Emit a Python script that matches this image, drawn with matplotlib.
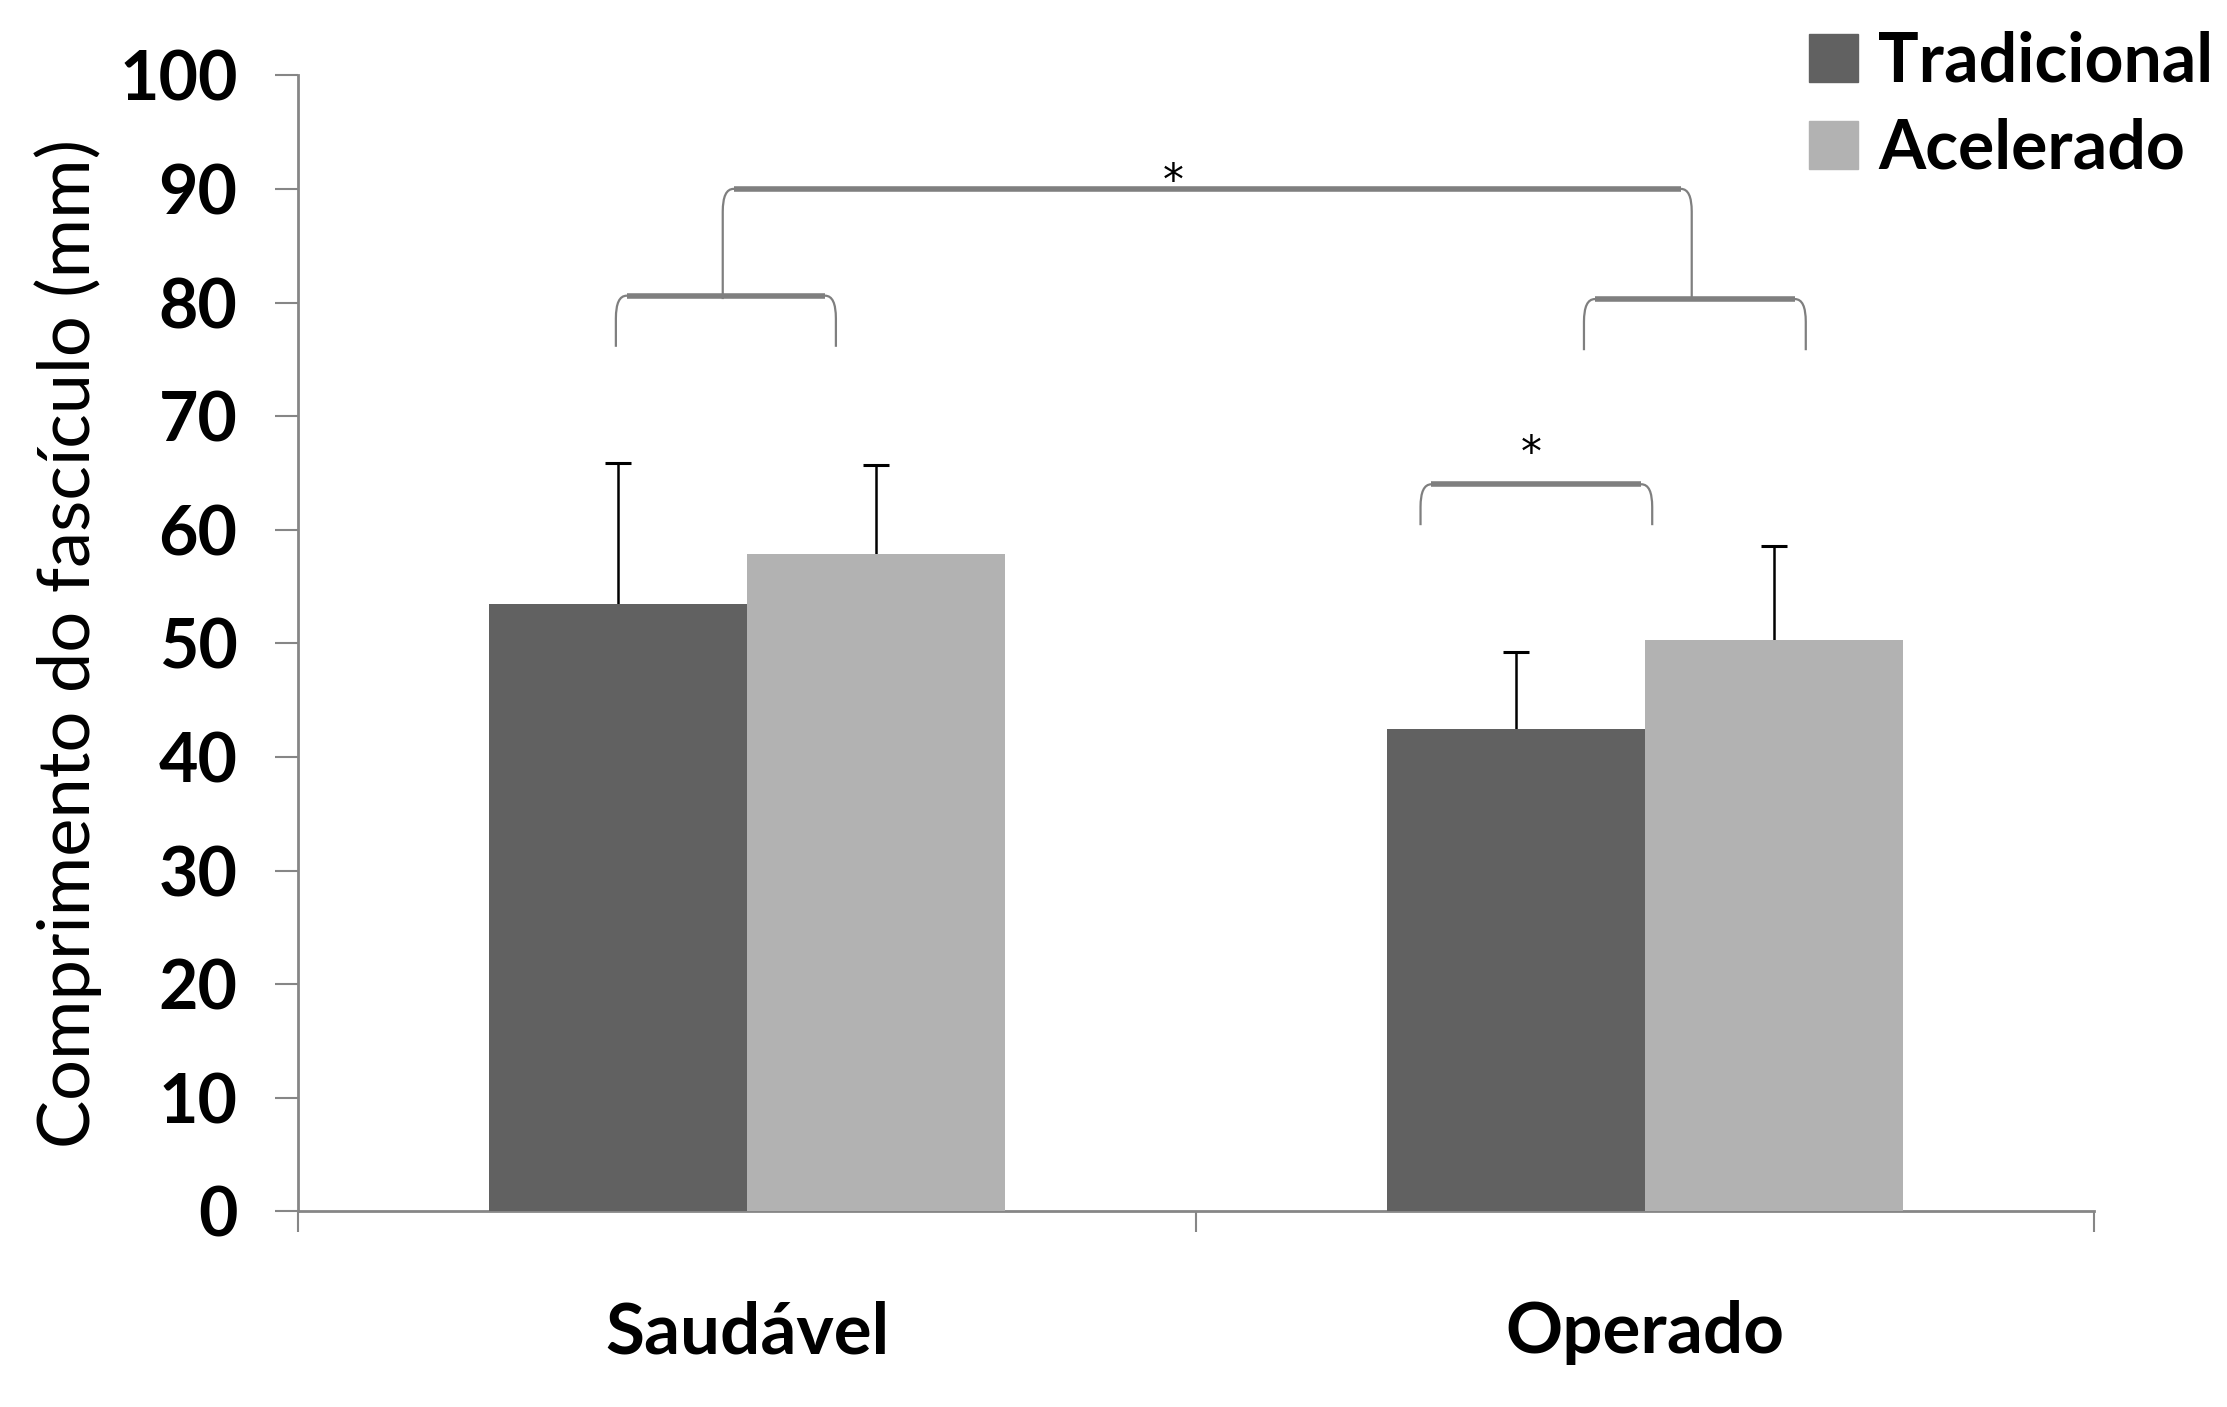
import matplotlib.pyplot as plt
from matplotlib.path import Path
from matplotlib.patches import PathPatch, Patch
import numpy as np

# Fascicle length (mm), mean and upper SD
groups = ["Saudável", "Operado"]
tradicional = [53.5, 42.5]
tradicional_sd = [12.4, 6.7]
acelerado = [57.9, 50.3]
acelerado_sd = [7.8, 8.3]

dark = "#616161"
light = "#b2b2b2"
axis_gray = "#868686"
bracket_gray = "#7f7f7f"

plt.rcParams["font.family"] = ["Lato", "DejaVu Sans"]

fig = plt.figure(figsize=(22.27, 14.07), dpi=100)
ax = fig.add_axes([0.1338, 0.139, 0.8065, 0.8075])

x = np.arange(len(groups))
w = 0.287

# bars sit above the error bars so only the upper half shows
ax.bar(x - w / 2, tradicional, w, color=dark, label="Tradicional", zorder=3)
ax.bar(x + w / 2, acelerado, w, color=light, label="Acelerado", zorder=3)
ax.errorbar(x - w / 2, tradicional, yerr=tradicional_sd, fmt="none",
            ecolor="black", elinewidth=1.8, capsize=9.5, capthick=2.2, zorder=2)
ax.errorbar(x + w / 2, acelerado, yerr=acelerado_sd, fmt="none",
            ecolor="black", elinewidth=1.8, capsize=9.5, capthick=2.2, zorder=2)


def bracket(x0, x1, y, ybot, rx=0.012, ry=2.0):
    verts = [(x0, ybot), (x0, y - ry), (x0, y), (x0 + rx, y),
             (x1 - rx, y), (x1, y), (x1, y - ry), (x1, ybot)]
    codes = [Path.MOVETO, Path.LINETO, Path.CURVE3, Path.CURVE3,
             Path.LINETO, Path.CURVE3, Path.CURVE3, Path.LINETO]
    ax.add_patch(PathPatch(Path(verts, codes), fill=False, lw=1.6,
                           edgecolor=bracket_gray, clip_on=False))
    ax.plot([x0 + rx, x1 - rx], [y, y], color=bracket_gray, lw=4,
            solid_capstyle="butt", clip_on=False)


bracket(-0.146, 0.099, 80.6, 76.1)
bracket(0.932, 1.179, 80.3, 75.8)
bracket(-0.027, 1.052, 90.0, 80.3)
bracket(0.750, 1.008, 64.0, 60.4)

ax.text(0.475, 88.8, "*", ha="center", va="bottom", fontsize=30,
        family="DejaVu Sans")
ax.text(0.873, 64.8, "*", ha="center", va="bottom", fontsize=30,
        family="DejaVu Sans")

ax.set_xlim(-0.5, 1.5)
ax.set_ylim(0, 100)
ax.set_yticks(np.arange(0, 101, 10))
ax.tick_params(axis="y", labelsize=49, length=16.5, width=1.5,
               color=axis_gray, pad=27)
for lbl in ax.get_yticklabels():
    lbl.set_fontweight("bold")

ax.set_xticks([-0.5, 0.5, 1.5])
ax.set_xticklabels([])
ax.set_xticks(x, minor=True)
ax.set_xticklabels(groups, minor=True, fontsize=51, fontweight="bold")
ax.tick_params(axis="x", which="major", length=15, width=1.5, color=axis_gray)
ax.tick_params(axis="x", which="minor", length=0, pad=64)

for side in ["top", "right"]:
    ax.spines[side].set_visible(False)
for side in ["left", "bottom"]:
    ax.spines[side].set_color(axis_gray)
    ax.spines[side].set_linewidth(2)

ax.set_ylabel("Comprimento do fascículo (mm)", fontsize=52, labelpad=12)

ax.legend(handles=[Patch(color=dark, label="Tradicional"),
                   Patch(color=light, label="Acelerado")],
          loc="upper left", bbox_to_anchor=(1809 / 2227, 1 - 31 / 1407),
          bbox_transform=fig.transFigure, frameon=False, borderpad=0,
          borderaxespad=0, prop={"weight": "bold", "size": 49},
          handlelength=0.72, handleheight=0.72, handletextpad=0.3,
          labelspacing=0.35)

fig.savefig("out.png", dpi=100)
